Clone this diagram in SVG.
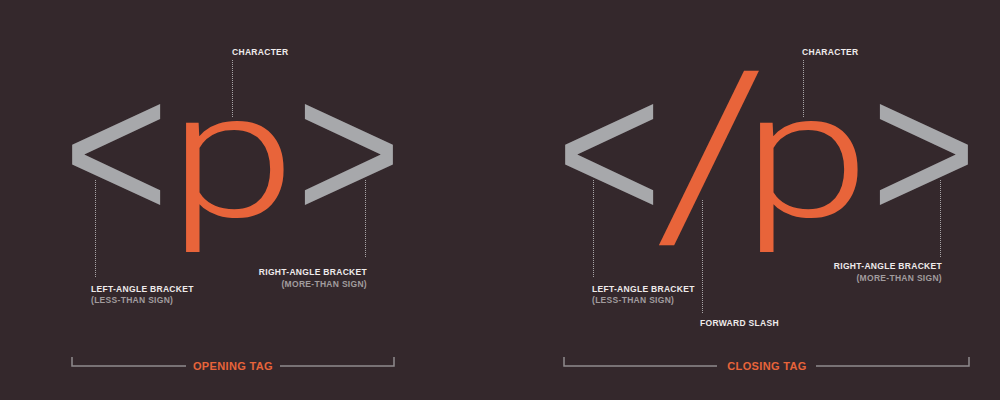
<svg xmlns="http://www.w3.org/2000/svg" width="1000" height="400" viewBox="0 0 1000 400">
<style>
.bg{fill:#34282c}
.br{font-family:"Liberation Sans",Arial,sans-serif;font-size:100px;fill:#a7a8ab}
.ch{font-family:Roboto,"Liberation Sans",sans-serif;font-weight:300;font-size:100px;fill:#e8643a}
.sl{font-family:"Liberation Sans",Arial,sans-serif;font-size:100px;fill:#e8643a}
.lb{font-family:"Liberation Sans",Arial,sans-serif;font-weight:bold;font-size:8.5px;letter-spacing:0.3px;fill:#efebeb}
.sb{font-family:"Liberation Sans",Arial,sans-serif;font-weight:bold;font-size:8.5px;letter-spacing:0.3px;fill:#a19c9e}
.tg{font-family:"Liberation Sans",Arial,sans-serif;font-weight:bold;font-size:11px;letter-spacing:0.35px;fill:#e8643a;text-anchor:middle}
.dot{stroke:#a8a4a6;stroke-width:1;stroke-dasharray:1 1;fill:none}
.brk{stroke:#8f8b8d;stroke-width:1.5;fill:none}
</style>
<rect class="bg" width="1000" height="400"/>
<g id="opening">
<g id="open-lt"><text class="br" transform="translate(63.2,220.3) scale(1.811,1.98)">&lt;</text></g>
<g id="open-p"><text class="ch" transform="translate(168.8,215.9) scale(2.289,1.76)">p</text></g>
<g id="open-gt"><text class="br" transform="translate(296,220.3) scale(1.811,1.98)">&gt;</text></g>
<g id="open-char-label"><text class="lb" x="232" y="55">CHARACTER</text></g>
<g id="open-left-label"><text class="lb" x="91" y="292">LEFT-ANGLE BRACKET</text><text class="sb" x="91" y="303">(LESS-THAN SIGN)</text></g>
<g id="open-right-label"><text class="lb" x="367" y="275" text-anchor="end">RIGHT-ANGLE BRACKET</text><text class="sb" x="367" y="287" text-anchor="end">(MORE-THAN SIGN)</text></g>
<g id="open-tag"><path class="brk" d="M72 357V366H186M280 366H394V357"/><text class="tg" x="233" y="369.5">OPENING TAG</text></g>
</g>
<g id="closing">
<g id="close-lt"><text class="br" transform="translate(556.2,220.3) scale(1.811,1.98)">&lt;</text></g>
<g id="close-slash"><text class="sl" transform="translate(659.5,243.2) skewX(-14.93) scale(1.93,2.375)">/</text></g>
<g id="close-p"><text class="ch" transform="translate(742.8,215.9) scale(2.289,1.76)">p</text></g>
<g id="close-gt"><text class="br" transform="translate(871,220.3) scale(1.811,1.98)">&gt;</text></g>
<g id="close-char-label"><text class="lb" x="802" y="55">CHARACTER</text></g>
<g id="close-left-label"><text class="lb" x="592" y="292">LEFT-ANGLE BRACKET</text><text class="sb" x="592" y="303">(LESS-THAN SIGN)</text></g>
<g id="close-slash-label"><text class="lb" x="700" y="326">FORWARD SLASH</text></g>
<g id="close-right-label"><text class="lb" x="942" y="269" text-anchor="end">RIGHT-ANGLE BRACKET</text><text class="sb" x="942" y="281" text-anchor="end">(MORE-THAN SIGN)</text></g>
<g id="close-tag"><path class="brk" d="M564 357V366H717M816 366H969V357"/><text class="tg" x="767" y="369.5">CLOSING TAG</text></g>
</g>
<g id="connectors">
<path class="dot" d="M232.5 60V117M95.5 180V277M365.5 180V258"/>
<path class="dot" d="M803.5 60V117M593.5 180V278M702.5 200V313M940.5 180V257"/>
</g>
</svg>
